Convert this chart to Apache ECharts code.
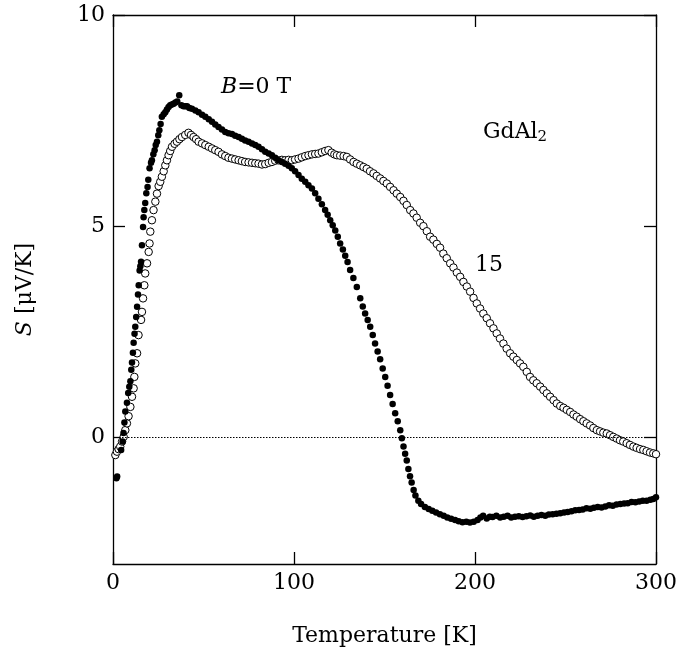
<!DOCTYPE html>
<html>
<head>
<meta charset="utf-8">
<script src="https://cdn.jsdelivr.net/npm/echarts@6/dist/echarts.min.js"></script>
<style>html,body{margin:0;padding:0;background:#fff;}#c{width:680px;height:658px;}</style>
</head>
<body>
<div id="c"></div>
<script>
// B = 0 T (filled circles)
const t0 = [1.9,2.3,4.5,5.3,5.8,6.3,6.8,7.7,8.4,9.0,9.6,10.1,10.5,11.0,11.4,11.9,12.3,12.8,13.3,13.8,14.2,14.7,15.1,15.5,16.0,16.6,16.9,17.3,17.8,18.4,19.1,19.5,20.2,21.0,21.5,22.3,23.0,23.6,24.3,25.0,25.6,26.3,27.0,28.0,28.9,29.8,30.7,31.6,32.5,33.5,34.5,35.5,36.6,37.8,39.0,40.0,40.9,42.2,43.6,45.5,47.3,49.2,51.0,52.9,54.7,56.5,58.3,60.2,62.0,63.8,65.7,67.5,69.4,71.2,73.0,74.9,76.8,78.6,80.4,82.3,84.1,86.0,87.8,89.6,91.4,93.3,95.1,97.0,98.8,100.6,102.5,104.3,106.2,108.0,109.9,111.7,113.5,115.4,117.2,118.6,120.0,121.4,122.8,124.2,125.5,127.0,128.3,129.6,131.0,132.8,134.7,136.6,138.0,139.3,140.7,142.1,143.5,144.8,146.2,147.6,149.0,150.4,151.7,153.1,154.5,155.9,157.3,158.7,159.6,160.5,161.4,162.3,163.2,164.1,165.0,166.1,167.1,168.7,170.2,172.3,174.4,176.4,178.5,180.6,182.7,184.7,186.8,189.0,191.0,193.1,195.2,197.2,199.3,201.4,203.0,204.5,206.5,208.2,209.7,211.8,213.9,215.9,218.0,220.0,222.1,224.2,226.3,228.4,230.5,232.5,234.6,236.7,238.8,240.8,242.9,245.0,247.1,249.2,251.2,253.3,255.4,257.5,259.5,261.6,263.7,265.7,267.8,269.9,272.0,274.1,276.1,278.2,280.3,282.4,284.4,286.5,288.6,290.7,292.7,294.8,296.9,298.5,300.0];
const s0 = [-0.97,-0.93,-0.30,-0.10,0.10,0.35,0.61,0.82,1.05,1.20,1.33,1.60,1.77,2.00,2.24,2.45,2.62,2.85,3.09,3.38,3.60,3.95,4.05,4.16,4.55,4.98,5.21,5.38,5.55,5.78,5.93,6.10,6.37,6.50,6.56,6.70,6.80,6.92,7.00,7.15,7.27,7.42,7.59,7.65,7.70,7.76,7.82,7.86,7.88,7.90,7.93,7.95,8.10,7.86,7.84,7.84,7.84,7.80,7.78,7.74,7.70,7.64,7.59,7.53,7.47,7.41,7.35,7.29,7.23,7.20,7.18,7.14,7.11,7.07,7.03,7.00,6.96,6.92,6.88,6.82,6.76,6.72,6.68,6.62,6.56,6.52,6.48,6.43,6.37,6.30,6.21,6.12,6.05,5.97,5.89,5.78,5.65,5.52,5.38,5.27,5.14,5.02,4.90,4.75,4.59,4.45,4.30,4.15,3.96,3.77,3.56,3.29,3.10,2.93,2.78,2.62,2.42,2.22,2.03,1.85,1.63,1.43,1.22,1.00,0.79,0.57,0.38,0.17,-0.02,-0.22,-0.39,-0.55,-0.75,-0.92,-1.07,-1.25,-1.38,-1.50,-1.58,-1.65,-1.70,-1.74,-1.78,-1.82,-1.86,-1.90,-1.93,-1.96,-1.99,-2.01,-2.00,-2.02,-2.00,-1.96,-1.90,-1.86,-1.92,-1.88,-1.89,-1.86,-1.90,-1.88,-1.86,-1.90,-1.88,-1.87,-1.89,-1.87,-1.85,-1.88,-1.86,-1.84,-1.86,-1.83,-1.82,-1.81,-1.80,-1.78,-1.77,-1.75,-1.73,-1.72,-1.71,-1.68,-1.69,-1.67,-1.65,-1.66,-1.64,-1.61,-1.62,-1.59,-1.58,-1.57,-1.56,-1.53,-1.54,-1.52,-1.50,-1.50,-1.48,-1.46,-1.42];

// B = 15 T (open circles)
const t15 = [1.3,2.2,3.1,4.0,5.0,5.9,6.8,7.7,8.6,9.6,10.5,11.4,11.8,12.3,13.3,14.1,15.5,16.0,16.6,17.3,17.8,18.8,19.7,20.2,20.6,21.5,22.4,23.4,24.3,25.2,26.1,27.0,28.0,28.9,29.8,30.7,31.6,32.6,34.0,35.3,36.7,38.1,39.9,41.7,43.1,44.5,45.9,47.3,49.2,51.0,52.9,54.7,56.5,58.3,60.2,62.0,63.8,65.7,67.5,69.4,71.2,73.0,74.9,76.8,78.6,80.4,82.3,84.1,86.0,87.8,89.6,91.4,93.3,95.1,97.0,98.8,100.6,102.5,104.3,106.2,108.0,109.9,111.7,113.5,115.4,117.2,119.0,120.8,122.3,123.7,125.5,127.4,129.2,131.0,132.9,134.7,136.6,138.4,140.2,142.0,143.9,145.7,147.6,149.4,151.3,153.1,155.0,156.8,158.7,160.5,162.3,164.2,166.0,167.8,169.7,171.5,173.4,175.2,177.0,178.9,180.7,182.5,184.4,186.3,188.1,190.0,191.8,193.6,195.5,197.3,199.2,201.0,202.8,204.6,206.5,208.3,210.2,212.0,213.8,215.7,217.5,219.4,221.2,223.1,224.9,226.7,228.6,230.4,232.2,234.1,236.0,237.8,239.7,241.5,243.4,245.2,247.1,248.9,250.7,252.6,254.4,256.2,258.1,259.9,261.7,263.6,265.4,267.3,269.1,270.9,272.8,274.6,276.4,278.3,280.1,281.9,283.8,285.6,287.5,289.3,291.2,293.0,294.8,296.7,298.5,300.0];
const s15 = [-0.42,-0.34,-0.28,-0.22,-0.10,0.01,0.17,0.33,0.50,0.72,0.96,1.16,1.43,1.75,1.99,2.42,2.78,2.97,3.29,3.60,3.88,4.12,4.39,4.59,4.87,5.14,5.38,5.58,5.77,5.95,6.05,6.17,6.30,6.44,6.56,6.68,6.78,6.88,6.95,7.00,7.06,7.11,7.16,7.21,7.16,7.11,7.06,7.00,6.96,6.92,6.88,6.84,6.80,6.76,6.70,6.66,6.62,6.60,6.58,6.56,6.54,6.52,6.51,6.50,6.49,6.48,6.46,6.47,6.50,6.52,6.55,6.56,6.57,6.56,6.57,6.56,6.58,6.60,6.63,6.66,6.68,6.70,6.71,6.72,6.75,6.78,6.80,6.74,6.70,6.68,6.67,6.66,6.64,6.58,6.52,6.48,6.44,6.40,6.36,6.30,6.25,6.19,6.13,6.07,6.01,5.93,5.85,5.77,5.69,5.60,5.50,5.38,5.30,5.20,5.08,5.00,4.88,4.75,4.68,4.58,4.49,4.35,4.24,4.12,4.02,3.90,3.80,3.68,3.57,3.45,3.30,3.17,3.05,2.93,2.82,2.70,2.58,2.46,2.34,2.22,2.10,1.99,1.91,1.83,1.75,1.67,1.55,1.43,1.35,1.28,1.20,1.12,1.04,0.96,0.88,0.80,0.74,0.70,0.65,0.60,0.54,0.49,0.43,0.38,0.33,0.28,0.22,0.17,0.14,0.11,0.09,0.05,0.01,-0.03,-0.07,-0.10,-0.14,-0.18,-0.22,-0.25,-0.28,-0.30,-0.33,-0.36,-0.38,-0.40];

const xTicks = [0, 100, 200, 300];
const yTicks = [0, 5, 10];

const FONT = 'DejaVu Serif';
const FS = 22;
const pair = (t, s) => t.map((v, i) => [v, s[i]]);

const chart = echarts.init(document.getElementById('c'), null, {renderer: 'canvas'});
const axisLineStyle = {show: true, onZero: false, lineStyle: {color: '#000', width: 1.3}};
const tickStyle = {show: true, inside: true, length: 12, lineStyle: {color: '#000', width: 1.3}};

chart.setOption({
  animation: false,
  backgroundColor: '#fff',
  grid: {left: 113, right: 24, top: 15, bottom: 94, outerBoundsMode: 'none', containLabel: false},
  xAxis: [{
    type: 'value', min: 0, max: 300, position: 'bottom',
    axisLine: axisLineStyle,
    axisTick: Object.assign({customValues: xTicks}, tickStyle),
    axisLabel: {customValues: xTicks, fontFamily: FONT, fontSize: FS, color: '#000', margin: 8},
    splitLine: {show: false},
    name: 'Temperature [K]', nameLocation: 'middle', nameGap: 61,
    nameTextStyle: {fontFamily: FONT, fontSize: FS, color: '#000'}
  }, {
    type: 'value', min: 0, max: 300, position: 'top',
    axisLine: axisLineStyle,
    axisTick: Object.assign({customValues: xTicks}, tickStyle),
    axisLabel: {show: false},
    splitLine: {show: false}
  }],
  yAxis: [{
    type: 'value', min: -3, max: 10, position: 'left',
    axisLine: axisLineStyle,
    axisTick: Object.assign({customValues: yTicks}, tickStyle),
    axisLabel: {customValues: yTicks, fontFamily: FONT, fontSize: FS, color: '#000', margin: 8},
    splitLine: {show: false},
    name: '{i|S} [μV/K]', nameLocation: 'middle', nameGap: 77, nameRotate: 90,
    nameTextStyle: {fontFamily: FONT, fontSize: FS, color: '#000',
      rich: {i: {fontFamily: FONT, fontStyle: 'italic', fontSize: FS, color: '#000'}}}
  }, {
    type: 'value', min: -3, max: 10, position: 'right',
    axisLine: axisLineStyle,
    axisTick: Object.assign({customValues: yTicks}, tickStyle),
    axisLabel: {show: false},
    splitLine: {show: false}
  }],
  series: [{
    name: '15 T', type: 'scatter', xAxisIndex: 0, yAxisIndex: 0,
    data: pair(t15, s15), symbol: 'circle', symbolSize: 7.5,
    itemStyle: {color: '#fff', borderColor: '#000', borderWidth: 1, opacity: 1},
    silent: true, z: 3,
    markLine: {
      silent: true, symbol: ['none', 'none'], label: {show: false},
      lineStyle: {color: '#000', type: [1.5, 1.5], width: 1},
      data: [{yAxis: 0}]
    }
  }, {
    name: '0 T', type: 'scatter', xAxisIndex: 0, yAxisIndex: 0,
    data: pair(t0, s0), symbol: 'circle', symbolSize: 6.5,
    itemStyle: {color: '#000', opacity: 1},
    silent: true, z: 4
  }],
  graphic: [{
    type: 'text', left: 221, top: 76, z: 10,
    style: {
      text: '{i|B}=0 T', fontFamily: FONT, fontSize: FS, fill: '#000',
      rich: {i: {fontFamily: FONT, fontStyle: 'italic', fontSize: FS, fill: '#000'}}
    }
  }, {
    type: 'text', left: 483, top: 121, z: 10,
    style: {
      text: 'GdAl{s|2}', fontFamily: FONT, fontSize: FS, fill: '#000',
      rich: {s: {fontFamily: FONT, fontSize: 15, fill: '#000', padding: [10, 0, 0, 0]}}
    }
  }, {
    type: 'text', left: 475, top: 254, z: 10,
    style: {text: '15', fontFamily: FONT, fontSize: FS, fill: '#000'}
  }]
});
</script>
</body>
</html>
